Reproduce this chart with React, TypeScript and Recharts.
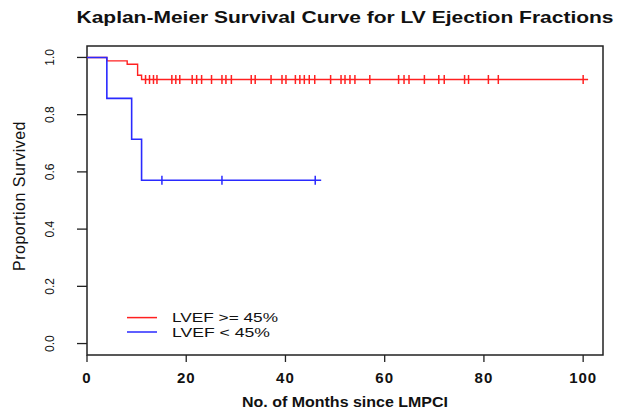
import {
  ComposedChart,
  Line,
  Scatter,
  XAxis,
  YAxis,
  ReferenceArea,
  Customized,
} from "recharts";

// step points of the Kaplan-Meier curves (months, proportion surviving)
const highSteps = [
  { t: 0, s: 1.0 },
  { t: 4, s: 0.988 },
  { t: 8.1, s: 0.976 },
  { t: 10.2, s: 0.938 },
  { t: 11, s: 0.923 },
  { t: 101, s: 0.923 },
];
const lowSteps = [
  { t: 0, s: 1.0 },
  { t: 4, s: 0.857 },
  { t: 9, s: 0.714 },
  { t: 11, s: 0.571 },
  { t: 47.2, s: 0.571 },
];

// censored follow-up times
const highCensored = [
  11.8, 12.6, 13.4, 14.1, 17.1, 17.9, 18.7, 21.2, 22.1, 23.1, 25.1, 27.2, 28.0,
  29.1, 33.1, 33.9, 37.1, 39.3, 40.1, 42.0, 42.9, 43.8, 44.8, 45.9, 49.1, 51.2,
  52.0, 53.0, 54.0, 57.0, 62.8, 63.9, 64.9, 68.0, 70.9, 72.0, 76.1, 76.9, 80.9,
  82.9, 100.0,
];
const lowCensored = [15.1, 27.2, 46.0];

const legendLabels = ["LVEF >= 45%", "LVEF < 45%"];
const xTicks = [0, 20, 40, 60, 80, 100];
const yTicks = [0, 0.2, 0.4, 0.6, 0.8, 1.0];

const RED = "#ff2020";
const BLUE = "#2a2aff";
const FONT = "'Liberation Sans', Arial, sans-serif";

// survival level at time t, read from the step list
function levelAt(steps: { t: number; s: number }[], t: number) {
  let s = steps[0].s;
  for (const p of steps) if (p.t <= t) s = p.s;
  return s;
}

const highMarks = highCensored.map((t) => ({ t, s: levelAt(highSteps, t) }));
const lowMarks = lowCensored.map((t) => ({ t, s: levelAt(lowSteps, t) }));

function censorShape(color: string) {
  return (props: any) => {
    const { cx, cy } = props;
    return <line x1={cx} x2={cx} y1={cy - 4.5} y2={cy + 4.5} stroke={color} strokeWidth={1.5} />;
  };
}

function XTick(props: any) {
  const { x, y, payload } = props;
  return (
    <text x={x} y={y + 19} textAnchor="middle" fontFamily={FONT} fontSize={15} fontWeight="bold" letterSpacing={1} fill="#111">
      {payload.value}
    </text>
  );
}

function YTick(props: any) {
  const { x, y, payload } = props;
  const bx = x - 19;
  return (
    <text x={bx} y={y} transform={`rotate(-90, ${bx}, ${y})`} textAnchor="middle" fontFamily={FONT} fontSize={12} fill="#111">
      {Number(payload.value).toFixed(1)}
    </text>
  );
}

function Texts() {
  const colors = [RED, BLUE];
  return (
    <g fontFamily={FONT} fill="#111">
      <text x={345} y={23} textAnchor="middle" fontSize={17} fontWeight="bold" textLength={537} lengthAdjust="spacingAndGlyphs">
        Kaplan-Meier Survival Curve for LV Ejection Fractions
      </text>
      <text x={345} y={407} textAnchor="middle" fontSize={15} fontWeight="bold" textLength={206} lengthAdjust="spacingAndGlyphs">
        No. of Months since LMPCI
      </text>
      <text x={25} y={196} transform="rotate(-90, 25, 196)" textAnchor="middle" fontSize={16} letterSpacing={0.5}>
        Proportion Survived
      </text>
      {legendLabels.map((label, i) => (
        <g key={label}>
          <line x1={127} x2={157} y1={317.6 + i * 14.4} y2={317.6 + i * 14.4} stroke={colors[i]} strokeWidth={1.5} />
          <text x={172} y={322.3 + i * 14.4} fontSize={13} textLength={i === 0 ? 106 : 98} lengthAdjust="spacingAndGlyphs">
            {label}
          </text>
        </g>
      ))}
    </g>
  );
}

export default function App() {
  return (
    <div style={{ position: "absolute", left: 0, top: 0, background: "#fff" }}>
      <ComposedChart width={621} height={410} margin={{ top: 46, right: 18, bottom: 0, left: 0 }}>
        <XAxis
          type="number"
          dataKey="t"
          domain={[0, 104]}
          ticks={xTicks}
          allowDataOverflow
          height={55}
          tickSize={7}
          tickMargin={2}
          axisLine={false}
          tickLine={{ stroke: "#222", strokeWidth: 1.3 }}
          tick={<XTick />}
        />
        <YAxis
          type="number"
          dataKey="s"
          domain={[-0.04, 1.04]}
          ticks={yTicks}
          allowDataOverflow
          width={87}
          tickSize={10}
          tickMargin={4}
          axisLine={false}
          tickLine={{ stroke: "#222", strokeWidth: 1.3 }}
          tick={<YTick />}
        />
        <ReferenceArea x1={0} x2={104} y1={-0.04} y2={1.04} fill="none" stroke="#222" strokeWidth={1.5} fillOpacity={0} />
        <Line data={highSteps} dataKey="s" type="stepAfter" stroke={RED} strokeWidth={1.4} dot={false} isAnimationActive={false} />
        <Line data={lowSteps} dataKey="s" type="stepAfter" stroke={BLUE} strokeWidth={1.6} dot={false} isAnimationActive={false} />
        <Scatter data={highMarks} dataKey="s" shape={censorShape(RED)} isAnimationActive={false} />
        <Scatter data={lowMarks} dataKey="s" shape={censorShape(BLUE)} isAnimationActive={false} />
        <Customized component={<Texts />} />
      </ComposedChart>
    </div>
  );
}
